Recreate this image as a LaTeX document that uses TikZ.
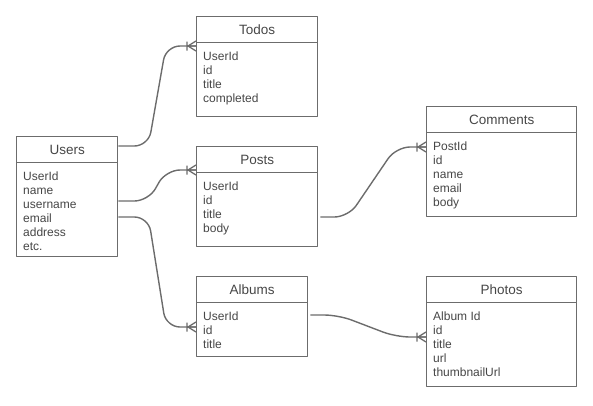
\documentclass[tikz,border=0pt]{standalone}
\usepackage{fontspec}
\setmainfont{Liberation Sans}
\begin{document}
\definecolor{edgegray}{RGB}{108,108,108}
\definecolor{textgray}{RGB}{70,70,70}
\begin{tikzpicture}[x=1pt,y=-1pt,
  line join=round,
  header/.style={draw=edgegray, line width=1.4pt, anchor=north west,
    inner sep=0pt, text=textgray, font=\fontsize{13.5}{16}\selectfont},
  body/.style={draw=edgegray, line width=1.4pt, anchor=north west, inner sep=0pt},
  fields/.style={anchor=north west, inner sep=0pt, align=left, text=textgray,
    font=\fontsize{12}{14}\selectfont},
  relation/.style={draw=edgegray, line width=1.4pt, rounded corners=14pt},
  crowfoot/.pic={
    \draw[edgegray, line width=1.3pt] (-8,0) -- (0,-5) (-8,0) -- (0,0) (-8,0) -- (0,5)
      (-9,-4.5) -- (-9,4.5);
  }]
\useasboundingbox (0,0) rectangle (593,405);

% one table = title bar + field list
% \tbl{name}{x}{y}{width}{body height}{title}{fields}
\newcommand{\tbl}[7]{%
  \node[header, minimum width=#4pt, minimum height=26pt] (#1h) at (#2,#3) {#6};
  \node[body, minimum width=#4pt, minimum height=#5pt] (#1b) at (#2,#3+26) {};
  \node[fields] (#1f) at (#2+7,#3+35.2) {#7};
}

\tbl{users}{16}{136}{101}{94}{Users}{UserId\\name\\username\\email\\address\\etc.}
\tbl{todos}{196}{16}{121}{74}{Todos}{UserId\\id\\title\\completed}
\tbl{posts}{196}{146}{121}{74}{Posts}{UserId\\id\\title\\body}
\tbl{albums}{196}{276}{111}{54}{Albums}{UserId\\id\\title}
\tbl{comments}{426}{106}{150}{84}{Comments}{PostId\\id\\name\\email\\body}
\tbl{photos}{426}{276}{150}{84}{Photos}{Album Id\\id\\title\\url\\thumbnailUrl}

% attachment points on the table sides
\coordinate (uTodo) at (usersh.east |- 0,146);
\coordinate (uPost) at (usersb.east |- 0,201);
\coordinate (uAlbum) at (usersb.east |- 0,217);
\coordinate (tIn) at (todosb.west |- 0,46);
\coordinate (pIn) at (postsb.west |- 0,170);
\coordinate (aIn) at (albumsb.west |- 0,327);
\coordinate (pOut) at (postsb.east |- 0,217);
\coordinate (cIn) at (commentsb.west |- 0,147);
\coordinate (aOut) at (albumsb.east |- 0,315);
\coordinate (phIn) at (photosb.west |- 0,337);

% relations (one-to-many)
\draw[relation] (uTodo) -- ++(30,0) -- ([xshift=-30pt]tIn) -- (tIn);
\draw[relation] (uPost) -- ++(30,0) -- ([xshift=-30pt]pIn) -- (pIn);
\draw[relation] (uAlbum) -- ++(30,0) -- ([xshift=-30pt]aIn) -- (aIn);
\draw[relation] ([xshift=2pt]pOut) -- ++(28,0) -- ([xshift=-30pt]cIn) -- (cIn);
\draw[relation] ([xshift=2pt]aOut) -- ++(28,0) -- ([xshift=-30pt]phIn) -- (phIn);

\pic at (tIn) {crowfoot};
\pic at (pIn) {crowfoot};
\pic at (aIn) {crowfoot};
\pic at (cIn) {crowfoot};
\pic at (phIn) {crowfoot};
\end{tikzpicture}
\end{document}
